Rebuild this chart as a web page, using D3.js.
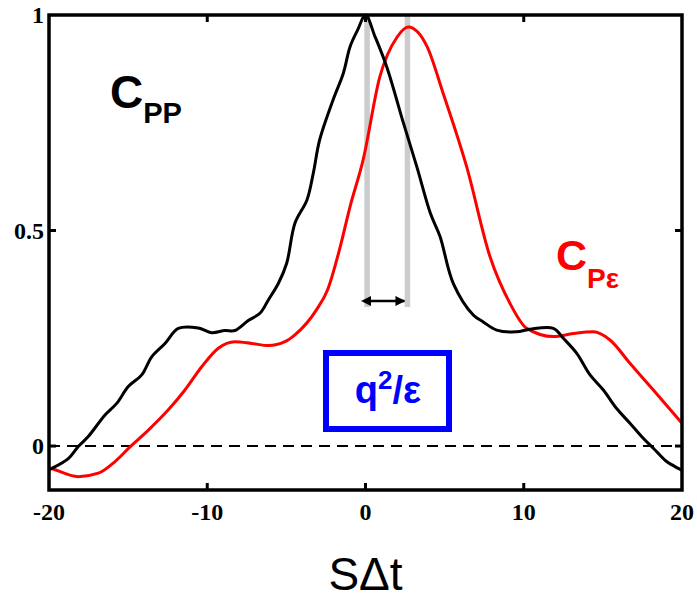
<!DOCTYPE html>
<html>
<head>
<meta charset="utf-8">
<script src="https://cdn.jsdelivr.net/npm/d3@7"></script>
<style>
  html, body { margin: 0; padding: 0; background: #fff; }
  svg { display: block; }
</style>
</head>
<body>
<svg id="chart" width="697" height="601"></svg>
<script>
// Lag axis values (SΔt) for the autocorrelation C_PP
const ppLag = [-20, -19.83, -18.78, -18.15, -17.52, -16.46, -15.72, -14.99, -14.14, -13.51, -12.67, -11.83, -10.57, -9.72, -8.88, -8.25,
               -7.41, -6.67, -6.14, -5.51, -4.98, -4.46, -3.7, -3.3, -2.9, -2.05, -1.4, -0.98, -0.5, 0,
               0.6, 1.35, 2.4, 3.25, 4.1, 4.71, 5.55, 6.81, 7.44, 8.29, 9.55, 10.4, 11.87, 12.5, 13.35, 14.19, 15.03,
               15.87, 16.71, 17.55, 18.19, 19.03, 19.87, 20];
const ppValue = [-0.055, -0.052, -0.029, -0.001, 0.022, 0.072, 0.099, 0.138, 0.165, 0.207, 0.238, 0.273, 0.274, 0.263, 0.268, 0.268,
                 0.291, 0.308, 0.339, 0.377, 0.424, 0.517, 0.571, 0.633, 0.71, 0.803, 0.865, 0.926, 0.965, 1.0,
                 0.95, 0.879, 0.749, 0.647, 0.54, 0.486, 0.377, 0.304, 0.288, 0.269, 0.265, 0.271, 0.273, 0.25, 0.215, 0.165, 0.13,
                 0.087, 0.053, 0.018, -0.005, -0.036, -0.054, -0.057];

// Lag axis values for the cross-correlation C_Pε
const peLag = [-20, -19.83, -18.15, -16.88, -15.83, -14.88, -13.72, -12.46, -11.41, -10.35, -9.3, -8.25, -7.19, -6.14, -5.09, -4.46,
               -3.1, -2.4, -1.6, -0.98, -0.15, 0.9, 2.0, 2.7, 3.9, 4.9, 6.4, 7.87, 9.13, 10.19, 11.87, 13.13, 14.4, 15.45,
               16.71, 18.19, 20];
const peValue = [-0.05, -0.052, -0.071, -0.063, -0.036, -0.002, 0.037, 0.084, 0.13, 0.184, 0.227, 0.242, 0.238, 0.233, 0.242, 0.258,
                 0.316, 0.362, 0.462, 0.555, 0.664, 0.856, 0.949, 0.972, 0.926, 0.819, 0.647, 0.439, 0.331, 0.273, 0.254, 0.261, 0.265, 0.246,
                 0.192, 0.13, 0.053];

const xTicks = [-20, -10, 0, 10, 20];
const yTicks = [0, 0.5, 1];
// Lag between the two peaks
const shiftMarks = [0.1, 2.65];

const svg = d3.select("#chart");
const L = 49, R = 682, T = 15, B = 490;

const x = d3.scaleLinear().domain([-20, 20]).range([L, R]);
const y = d3.scaleLinear().domain([-0.102, 1]).range([B, T]);

const serif = "'Liberation Serif', 'Times New Roman', serif";
const sans = "'Liberation Sans', Arial, sans-serif";

// zero reference line
svg.append("line")
  .attr("x1", x(-20)).attr("x2", x(20))
  .attr("y1", y(0)).attr("y2", y(0))
  .attr("stroke", "#000").attr("stroke-width", 2)
  .attr("stroke-dasharray", "11,7");

// grey markers at the two peaks
svg.selectAll("line.mark").data(shiftMarks).join("line")
  .attr("class", "mark")
  .attr("x1", d => x(d)).attr("x2", d => x(d))
  .attr("y1", T).attr("y2", 307)
  .attr("stroke", "#cccccc").attr("stroke-width", 5.5);

// curves
const ppLine = d3.line().x(d => x(d[0])).y(d => y(d[1])).curve(d3.curveCatmullRom.alpha(0.5));
const peLine = d3.line().x(d => x(d[0])).y(d => y(d[1])).curve(d3.curveMonotoneX);

svg.append("path")
  .datum(peLag.map((v, i) => [v, peValue[i]]))
  .attr("d", peLine)
  .attr("fill", "none").attr("stroke", "#ff0000").attr("stroke-width", 3);

svg.append("path")
  .datum(ppLag.map((v, i) => [v, ppValue[i]]))
  .attr("d", ppLine)
  .attr("fill", "none").attr("stroke", "#000").attr("stroke-width", 3);

// double-headed arrow between the peaks
const defs = svg.append("defs");
["s", "e"].forEach(k => {
  defs.append("marker")
    .attr("id", "arr-" + k)
    .attr("viewBox", "0 0 10 10").attr("refX", k === "e" ? 9 : 1).attr("refY", 5)
    .attr("markerWidth", 4).attr("markerHeight", 4).attr("markerUnits", "strokeWidth")
    .attr("orient", k === "e" ? "auto" : "auto-start-reverse")
    .append("path").attr("d", "M0,0 L10,5 L0,10 z").attr("fill", "#000");
});
svg.append("line")
  .attr("x1", x(shiftMarks[0]) + 3).attr("x2", x(shiftMarks[1]) - 3)
  .attr("y1", 301).attr("y2", 301)
  .attr("stroke", "#000").attr("stroke-width", 2.5)
  .attr("marker-start", "url(#arr-s)").attr("marker-end", "url(#arr-e)");

// frame and inward ticks
svg.append("rect")
  .attr("x", L).attr("y", T).attr("width", R - L).attr("height", B - T)
  .attr("fill", "none").attr("stroke", "#000").attr("stroke-width", 3.5);

const tickLen = 7;
const innerX = xTicks.filter(d => d > -20 && d < 20);
const tickG = svg.append("g").attr("stroke", "#000").attr("stroke-width", 3);
tickG.selectAll("line.bx").data(innerX).join("line")
  .attr("x1", d => x(d)).attr("x2", d => x(d)).attr("y1", B).attr("y2", B - tickLen);
tickG.selectAll("line.tx").data(innerX).join("line")
  .attr("x1", d => x(d)).attr("x2", d => x(d)).attr("y1", T).attr("y2", T + tickLen);
tickG.selectAll("line.ly").data(yTicks.filter(d => d < 1)).join("line")
  .attr("x1", L).attr("x2", L + tickLen).attr("y1", d => y(d)).attr("y2", d => y(d));
tickG.selectAll("line.ry").data(yTicks.filter(d => d < 1)).join("line")
  .attr("x1", R).attr("x2", R - tickLen).attr("y1", d => y(d)).attr("y2", d => y(d));

// tick labels
svg.selectAll("text.xt").data(xTicks).join("text")
  .attr("x", d => x(d)).attr("y", 520)
  .attr("text-anchor", "middle")
  .attr("font-family", serif).attr("font-size", 24).attr("font-weight", "bold")
  .text(d => d);

svg.selectAll("text.yt").data(yTicks).join("text")
  .attr("x", 44).attr("y", d => y(d)).attr("dy", "0.35em")
  .attr("text-anchor", "end")
  .attr("font-family", serif).attr("font-size", 24).attr("font-weight", "bold")
  .text(d => d);

// axis title
svg.append("text")
  .attr("x", x(0)).attr("y", 590)
  .attr("text-anchor", "middle")
  .attr("font-family", sans).attr("font-size", 46)
  .text("SΔt");

// series labels
const cpp = svg.append("text")
  .attr("x", 110).attr("y", 108)
  .attr("font-family", sans).attr("font-weight", "bold").attr("font-size", 46);
cpp.append("tspan").text("C");
cpp.append("tspan").attr("font-size", 29).attr("dy", 15).text("PP");

const cpe = svg.append("text")
  .attr("x", 556).attr("y", 270)
  .attr("fill", "#ff0000")
  .attr("font-family", sans).attr("font-weight", "bold").attr("font-size", 43);
cpe.append("tspan").text("C");
cpe.append("tspan").attr("font-size", 28).attr("dy", 18).text("Pε");

// shift box
svg.append("rect")
  .attr("x", 326).attr("y", 353).attr("width", 123).attr("height", 76)
  .attr("fill", "#fff").attr("stroke", "#0000ff").attr("stroke-width", 6);
const q = svg.append("text")
  .attr("x", 388).attr("y", 403)
  .attr("text-anchor", "middle")
  .attr("fill", "#0000ff")
  .attr("font-family", sans).attr("font-weight", "bold").attr("font-size", 38);
q.append("tspan").text("q");
q.append("tspan").attr("font-size", 26).attr("dy", -14).text("2");
q.append("tspan").attr("dy", 14).text("/ε");
</script>
</body>
</html>
